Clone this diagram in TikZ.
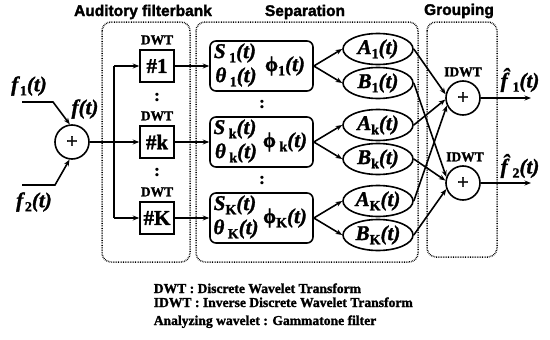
\documentclass[tikz,border=0pt]{standalone}
\usepackage{fontspec}
\setmainfont{Liberation Serif}[BoldFeatures={FakeBold=1.5},BoldItalicFeatures={FakeBold=1.5}]
\newfontfamily\hvf{Liberation Sans}[BoldFeatures={FakeBold=2}]
\usetikzlibrary{shapes.geometric,arrows.meta}
\newcommand\bi[1]{\textbf{\textit{#1}}}
\newcommand\sbx[1]{\raisebox{-0.2em}{\fontsize{14}{14}\selectfont\bfseries\upshape #1}}
\newcommand\mt[2]{\bi{#1}\sbx{#2}\bi{(t)}}
\begin{document}
\begin{tikzpicture}[x=1pt,y=-1pt,
 line width=1.6pt,
 >={Stealth[length=6.5pt,width=5pt]},
 grp/.style={draw,line width=1.5pt,dash pattern=on 0.7pt off 1pt,rounded corners=9pt},
 ttl/.style={font=\hvf\bfseries\fontsize{15.5}{17}\selectfont},
 small/.style={font=\bfseries\fontsize{13.5}{15}\selectfont},
 dwtbox/.style={draw,minimum width=34pt,minimum height=32pt,inner sep=0pt,font=\bfseries\fontsize{21}{22}\selectfont},
 sepbox/.style={draw,rounded corners=6pt,minimum width=103pt,minimum height=50pt,inner sep=0pt},
 ell/.style={draw,ellipse,minimum width=70pt,minimum height=31pt,inner sep=0pt,font=\fontsize{21}{22}\selectfont},
 sumc/.style={draw,circle,minimum size=34pt,inner sep=0pt,font=\bfseries\fontsize{20}{20}\selectfont},
 mlab/.style={font=\fontsize{21}{22}\selectfont,inner sep=0pt},
 vdots/.style={font=\bfseries\fontsize{17}{17}\selectfont,inner sep=0pt},
 note/.style={anchor=base west,font=\bfseries\fontsize{13.6}{15}\selectfont,inner sep=0pt}
]
\useasboundingbox (0,0) rectangle (550,340);
% group boxes
\draw[grp] (102,22) rectangle (190,262);
\draw[grp] (196,22) rectangle (418,262);
\draw[grp] (427,22) rectangle (497,257);
\node[ttl] (t1) at (143,12) {Auditory filterbank};
\node[ttl] (t2) at (305,12) {Separation};
\node[ttl] (t3) at (459,11) {Grouping};
% input summation
\node[sumc] (sum) at (72,142) {+};
\coordinate (f1s) at (22,102);
\coordinate (f1b) at (53,102);
\coordinate (f2s) at (22,185);
\coordinate (f2b) at (55,185);
\draw[->] (f1s) -- (f1b) -- (sum.97);
\draw[->] (f2s) -- (f2b) -- (sum.262);
\node[mlab] (lf1) at (29,86) {\mt{f}{1}};
\node[mlab] (lf2) at (34,202) {\mt{f}{2}};
\node[mlab] (lf) at (85,109) {\bi{f(t)}};
% DWT filterbank
\node[dwtbox] (d1) at (157,66) {\#1};
\node[dwtbox] (dk) at (157,142) {\#k};
\node[dwtbox] (dK) at (157,218) {\#K};
\node[small] (w1) at (157,40) {DWT};
\node[small] (wk) at (157,116) {DWT};
\node[small] (wK) at (157,192) {DWT};
\node[vdots] (v1) at (157,97) {:};
\node[vdots] (v2) at (157,172) {:};
\coordinate (j1) at (114,66);
\coordinate (jK) at (114,218);
\draw[->] (sum) -- (dk);
\draw (j1) -- (jK);
\draw[->] (j1) -- (d1);
\draw[->] (jK) -- (dK);
% separation boxes
\node[sepbox] (s1) at (261.5,66) {};
\node[sepbox] (sk) at (261.5,142) {};
\node[sepbox] (sK) at (261.5,218) {};
\node[mlab] (s1a) at (235,53) {\bi{S}\,\sbx{1}\bi{(t)}};
\node[mlab] (s1b) at (236,77) {\bi{θ}\,\sbx{1}\bi{(t)}};
\node[mlab] (s1c) at (285,66) {\textbf{ϕ}\sbx{1}\bi{(t)}};
\node[mlab] (ska) at (235,129) {\bi{S}\,\sbx{k}\bi{(t)}};
\node[mlab] (skb) at (236,153) {\bi{θ}\,\sbx{k}\bi{(t)}};
\node[mlab] (skc) at (285,142) {\textbf{ϕ}\,\sbx{k}\bi{(t)}};
\node[mlab] (sKa) at (235,205) {\mt{S}{K}};
\node[mlab] (sKb) at (236,229) {\bi{θ}\,\sbx{K}\bi{(t)}};
\node[mlab] (sKc) at (285,218) {\textbf{ϕ}\sbx{K}\bi{(t)}};
\node[vdots] (v3) at (262,104) {:};
\node[vdots] (v4) at (262,180) {:};
\draw[->] (d1) -- (s1);
\draw[->] (dk) -- (sk);
\draw[->] (dK) -- (sK);
% ellipses
\node[ell] (a1) at (378,49) {\mt{A}{1}};
\node[ell] (b1) at (378,83) {\mt{B}{1}};
\node[ell] (ak) at (378,125) {\mt{A}{k}};
\node[ell] (bk) at (378,159) {\mt{B}{k}};
\node[ell] (aK) at (378,201) {\mt{A}{K}};
\node[ell] (bK) at (378,235) {\mt{B}{K}};
\draw[->] (s1.east) -- (a1.west);
\draw[->] (s1.east) -- (b1.west);
\draw[->] (sk.east) -- (ak.west);
\draw[->] (sk.east) -- (bk.west);
\draw[->] (sK.east) -- (aK.west);
\draw[->] (sK.east) -- (bK.west);
% grouping
\node[sumc] (g1) at (463,98) {+};
\node[sumc] (g2) at (463,183) {+};
\node[small] (i1) at (463,72) {IDWT};
\node[small] (i2) at (465,157) {IDWT};
\draw[->] (a1.east) -- (g1.168);
\draw[->] (ak.east) -- (g1.185);
\draw[->] (aK.east) -- (g1.205);
\draw[->] (b1.east) -- (g2.160);
\draw[->] (bk.east) -- (g2.172);
\draw[->] (bK.east) -- (g2.200);
\coordinate (o1) at (531,98);
\coordinate (o2) at (531,183);
\draw[->] (g1) -- (o1);
\draw[->] (g2) -- (o2);
\node[mlab] (lo1) at (520,80) {\bi{\^f}\sbx{1}\bi{(t)}};
\node[mlab] (lo2) at (520,166) {\bi{\^f}\sbx{2}\bi{(t)}};
% notes
\node[note] (n1) at (153,293) {DWT : Discrete Wavelet Transform};
\node[note] (n2) at (153,307) {IDWT : Inverse Discrete Wavelet Transform};
\node[note] (n3) at (153,325) {Analyzing wavelet : Gammatone filter};
\end{tikzpicture}
\end{document}
